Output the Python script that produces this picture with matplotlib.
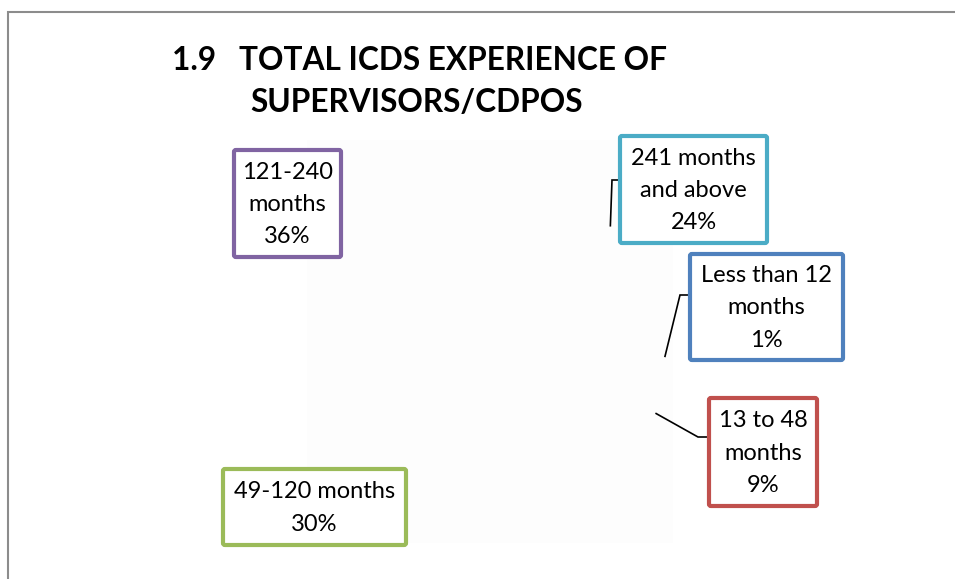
import matplotlib.pyplot as plt
from matplotlib.patches import Rectangle, FancyBboxPatch
import numpy as np

plt.rcParams['font.family'] = ['Lato', 'DejaVu Sans']

title_lines = ["1.9   TOTAL ICDS EXPERIENCE OF", "SUPERVISORS/CDPOS"]
categories = ["Less than 12\nmonths", "13 to 48\nmonths", "49-120 months",
              "121-240\nmonths", "241 months\nand above"]
values = [1, 9, 30, 36, 24]
box_colors = ["#4F81BD", "#C0504D", "#9BBB59", "#8064A2", "#4BACC6"]

W, H = 955, 579
fig = plt.figure(figsize=(9.55, 5.79), dpi=100)
ax = fig.add_axes([0, 0, 1, 1])

def Y(y):
    return H - y

# chart border
ax.add_patch(Rectangle((8, Y(1000)), 1200, Y(12) - Y(1000), facecolor='white',
                       edgecolor='#8c8c8c', linewidth=1.5, zorder=0))
# faint plot area
ax.add_patch(Rectangle((307, Y(543)), 366, 403, facecolor='#fdfdfd',
                       edgecolor='none', zorder=0.5))

cx, cy, r = 480, Y(357), 185
wedges, _ = ax.pie(values, center=(cx, cy), radius=r, startangle=2,
                   counterclock=False, colors=['none'] * len(values),
                   wedgeprops=dict(edgecolor='none'))
ax.set_xlim(0, W)
ax.set_ylim(0, H)
ax.set_aspect('equal')
ax.axis('off')

# label boxes (image pixel coords: x0, y0, x1, y1)
boxes = {
    0: (690, 254, 843, 360),
    1: (709, 398, 817, 506),
    2: (223, 469, 406, 545),
    3: (234, 150, 341, 257),
    4: (620, 136, 767, 243),
}
knees = {0: (680, 295, 690), 1: (698, 437, 709), 4: (612, 180, 620)}

total = sum(values)
for i, (cat, v) in enumerate(zip(categories, values)):
    x0, y0, x1, y1 = boxes[i]
    ax.add_patch(FancyBboxPatch((x0, Y(y1)), x1 - x0, y1 - y0,
                                boxstyle="round,pad=0,rounding_size=2",
                                facecolor='white', edgecolor=box_colors[i],
                                linewidth=3, zorder=3))
    pct = round(v / total * 100)
    ax.text((x0 + x1) / 2, Y((y0 + y1) / 2 + 1), f"{cat}\n{pct}%",
            ha='center', va='center', fontsize=17, color='black',
            linespacing=1.65, zorder=4)
    if i in knees:
        w = wedges[i]
        mid = np.deg2rad((w.theta1 + w.theta2) / 2)
        sx, sy = cx + r * np.cos(mid), cy + r * np.sin(mid)
        kx, ky, ex = knees[i]
        ax.plot([sx, kx, ex], [sy, Y(ky), Y(ky)], color='black', lw=1.2,
                zorder=2, solid_joinstyle='miter')

ax.text(172, Y(60), title_lines[0], fontsize=22.8, fontweight='bold',
        ha='left', va='center')
ax.text(250, Y(103), title_lines[1], fontsize=22.8, fontweight='bold',
        ha='left', va='center')

fig.savefig('out.png', dpi=100)
